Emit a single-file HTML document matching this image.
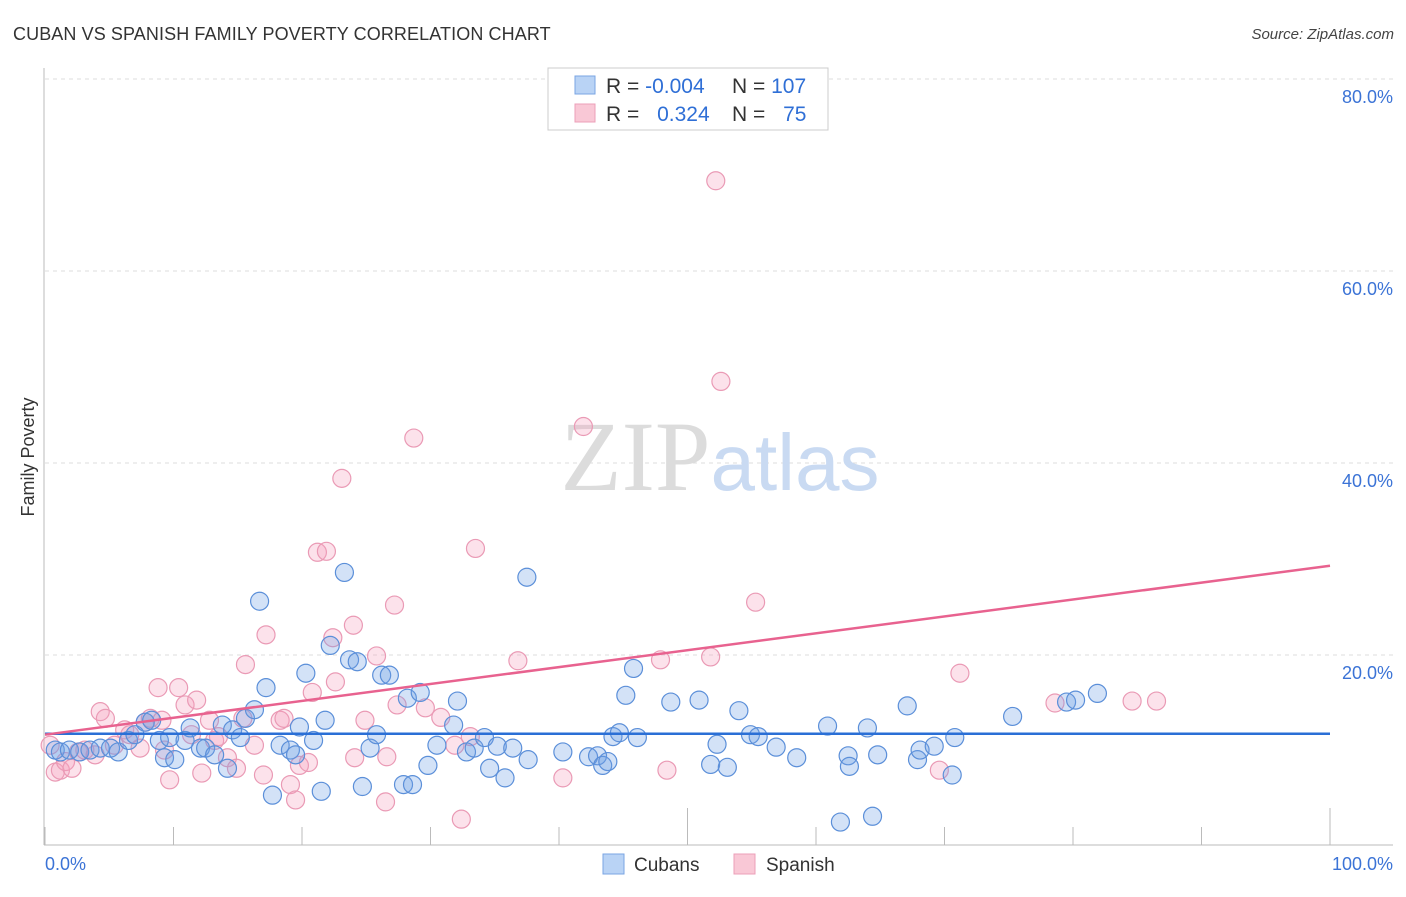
<!DOCTYPE html>
<html><head><meta charset="utf-8"><style>
body{margin:0;background:#fff;font-family:"Liberation Sans",sans-serif;}
svg text{font-family:"Liberation Sans",sans-serif;}
</style></head><body>
<svg id="chart" width="1406" height="892" viewBox="0 0 1406 892" xmlns="http://www.w3.org/2000/svg">
<text x="13" y="40" font-size="18" fill="#333" letter-spacing="0.1">CUBAN VS SPANISH FAMILY POVERTY CORRELATION CHART</text>
<text x="1394" y="39" font-size="15" fill="#444" font-style="italic" text-anchor="end">Source: ZipAtlas.com</text>
<g id="grid"></g>
<text x="720" y="490" font-size="100" text-anchor="middle"><tspan fill="#dcdcdc" font-family="Liberation Serif">ZIP</tspan><tspan fill="#c9daf2" font-size="80">atlas</tspan></text>
<g id="marks"></g>
<text transform="translate(34,457) rotate(-90)" font-size="18" fill="#333" text-anchor="middle">Family Poverty</text>
<g>
<rect x="548" y="68" width="280" height="62" fill="#fff" stroke="#ccc"/>
<rect x="575" y="76" width="20" height="18" fill="#b9d3f5" stroke="#7aa5e3"/>
<rect x="575" y="104" width="20" height="18" fill="#f9c8d6" stroke="#ec9fb8"/>
<text x="606" y="93" font-size="21" fill="#333">R = <tspan fill="#2f6fd6">-0.004</tspan></text>
<text x="732" y="93" font-size="21" fill="#333">N = <tspan fill="#2f6fd6">107</tspan></text>
<text x="606" y="121" font-size="21" fill="#333">R = <tspan fill="#2f6fd6" dx="12">0.324</tspan></text>
<text x="732" y="121" font-size="21" fill="#333">N = <tspan fill="#2f6fd6" dx="12">75</tspan></text>
</g>
<g>
<rect x="603" y="854" width="21" height="20" fill="#b9d3f5" stroke="#7aa5e3"/>
<text x="634" y="871" font-size="19" fill="#333">Cubans</text>
<rect x="734" y="854" width="21" height="20" fill="#f9c8d6" stroke="#ec9fb8"/>
<text x="766" y="871" font-size="19" fill="#333">Spanish</text>
</g>
</svg>
<script>
const yTicks=[20,40,60,80];
const yTickLabels=["20.0%","40.0%","60.0%","80.0%"];
const xTickLabels=["0.0%","100.0%"];
const cubanX=[0.8,1.2,1.9,2.7,3.5,4.3,5.1,5.7,6.5,7.0,7.8,8.3,8.9,9.3,10.1,9.7,10.9,11.3,12.1,12.5,13.2,13.8,14.2,14.6,15.2,15.6,16.3,16.7,17.2,17.7,18.3,19.1,19.5,19.8,20.3,20.9,21.5,21.8,22.2,23.3,23.7,24.3,24.7,25.3,25.8,26.2,26.8,27.9,28.2,28.6,29.2,29.8,30.5,31.8,32.1,32.8,33.4,34.2,34.6,35.2,35.8,36.4,37.5,37.6,40.3,42.3,43.0,43.4,43.8,44.2,44.7,45.2,45.8,46.1,48.7,50.9,51.8,52.3,53.1,54.0,54.9,55.5,56.9,58.5,60.9,61.9,62.5,62.6,64.0,64.4,64.8,67.1,67.9,68.1,69.2,70.6,70.8,75.3,79.5,80.2,81.9];
const cubanY=[10.1,9.9,10.1,9.9,10.1,10.3,10.3,9.9,11.1,11.7,13.0,13.2,11.1,9.3,9.1,11.4,11.1,12.4,10.3,10.3,9.6,12.7,8.2,12.2,11.4,13.4,14.3,25.6,16.6,5.4,10.6,10.1,9.6,12.5,18.1,11.1,5.8,13.2,21.0,28.6,19.5,19.3,6.3,10.3,11.7,17.9,17.9,6.5,15.5,6.5,16.1,8.5,10.6,12.7,15.2,9.9,10.3,11.4,8.2,10.5,7.2,10.3,28.1,9.1,9.9,9.4,9.5,8.5,8.9,11.5,11.9,15.8,18.6,11.4,15.1,15.3,8.6,10.7,8.3,14.2,11.7,11.5,10.4,9.3,12.6,2.6,9.5,8.4,12.4,3.2,9.6,14.7,9.1,10.1,10.5,7.5,11.4,13.6,15.1,15.3,16.0];
const spanishX=[0.4,0.8,1.2,1.6,2.1,2.6,3.1,3.9,4.3,4.7,5.4,6.2,6.6,7.4,7.8,8.2,8.8,9.1,9.3,9.7,10.4,10.9,11.4,11.8,12.2,12.8,13.2,13.5,14.2,14.9,15.4,15.6,16.3,17.0,17.2,18.3,18.6,19.1,19.5,19.8,20.5,20.8,21.2,21.9,22.4,22.6,23.1,24.0,24.1,24.9,25.8,26.5,26.6,27.2,27.4,29.6,28.7,30.8,31.9,32.4,33.1,33.5,36.8,40.3,41.9,47.9,48.4,51.8,52.2,52.6,55.3,69.6,71.2,78.6,84.6,86.5];
const spanishY=[10.6,7.8,8.0,8.9,8.2,9.9,10.1,9.6,14.1,13.4,10.6,12.2,11.7,10.3,13.0,13.4,16.6,13.2,10.1,7.0,16.6,14.8,11.7,15.3,7.7,13.2,11.1,11.5,9.3,8.2,13.4,19.0,10.6,7.5,22.1,13.2,13.4,6.5,4.9,8.5,8.8,16.1,30.7,30.8,21.8,17.2,38.4,23.1,9.3,13.2,19.9,4.7,9.4,25.2,14.8,14.5,42.6,13.5,10.6,2.9,11.5,31.1,19.4,7.2,43.8,19.5,8.0,19.8,69.4,48.5,25.5,8.0,18.1,15.0,15.2,15.2];
const cubanTrend=[11.8,11.8];
const spanishTrend=[11.7,29.3];

const X0=45,X1=1330,Y0=847,PER=9.6;
const sx=v=>X0+(X1-X0)*v/100;
const sy=v=>Y0-v*PER;
const NS="http://www.w3.org/2000/svg";
function mk(tag,attrs,parent){const e=document.createElementNS(NS,tag);for(const k in attrs)e.setAttribute(k,attrs[k]);parent.appendChild(e);return e;}
const grid=document.getElementById('grid'),marks=document.getElementById('marks');
yTicks.forEach((t,i)=>{
  const l=mk('line',{x1:45,x2:1393,y1:sy(t),y2:sy(t),stroke:'#ddd','stroke-dasharray':'4,4'},grid);
  
  
  const tx=mk('text',{x:1393,y:sy(t)+24,'font-size':18,fill:'#3b73d6','text-anchor':'end'},grid);
  tx.textContent=yTickLabels[i];
  
  
});
const ax=mk('line',{x1:44,x2:44,y1:68,y2:845,stroke:'#bbb'},grid);


const bx=mk('line',{x1:44,x2:1393,y1:845,y2:845,stroke:'#bbb'},grid);


for(let i=0;i<=10;i++){
  const x=sx(i*10);const tall=(i===5||i===10);
  const t=mk('line',{x1:x,x2:x,y1:tall?808:827,y2:845,stroke:'#bbb'},grid);
  
  
}
[[45,'start'],[1393,'end']].forEach((p,i)=>{
  const tx=mk('text',{x:p[0],y:870,'font-size':18,fill:'#3b73d6','text-anchor':p[1]},grid);
  tx.textContent=xTickLabels[i];
  
  
});
function pts(xs,ys,fill,stroke,name){
  xs.forEach((v,i)=>{
    const c=mk('circle',{cx:sx(v),cy:sy(ys[i]),r:9,fill:fill,stroke:stroke,'stroke-width':1.2},marks);
    
    
  });
}
pts(spanishX,spanishY,'rgba(244,160,190,0.3)','#ea9ab5','spanish-point');
pts(cubanX,cubanY,'rgba(110,160,230,0.3)','#5b8fd9','cuban-point');
const t1=mk('line',{x1:sx(0),x2:sx(100),y1:sy(cubanTrend[0]),y2:sy(cubanTrend[1]),stroke:'#2a6fd6','stroke-width':2.5},marks);


const t2=mk('line',{x1:sx(0),x2:sx(100),y1:sy(spanishTrend[0]),y2:sy(spanishTrend[1]),stroke:'#e8628f','stroke-width':2.5},marks);


</script>
</body></html>
